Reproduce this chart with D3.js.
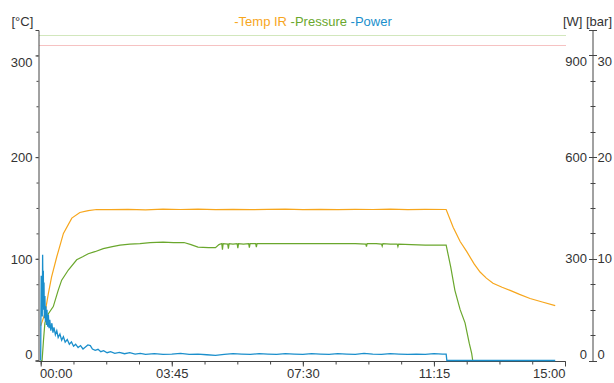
<!DOCTYPE html>
<html>
<head>
<meta charset="utf-8">
<script src="https://cdn.jsdelivr.net/npm/d3@7"></script>
<style>
  html, body { margin: 0; padding: 0; background: #fff; }
  svg { display: block; font-family: "Liberation Sans", Arial, sans-serif; }
</style>
</head>
<body>
<svg id="chart" width="614" height="383"></svg>
<script>
// ---- Data (time in minutes) ----
const seriesNames = ["Temp IR", "Pressure", "Power"];
const seriesColors = ["#f7a61c", "#6aa72d", "#1b8fcc"];

const tempTime = [0, 0.12, 0.22, 0.31, 0.46, 0.65, 0.89, 1.12, 1.36, 1.6,
  2.0, 2.5, 3.0, 3.5, 4.0, 4.5, 5.0, 5.5, 6.0, 6.5, 7.0, 7.5, 8.0, 8.5, 9.0, 9.5, 10.0, 10.5, 11.0, 11.6,
  11.8, 12.0, 12.19, 12.4, 12.57, 12.75, 12.94, 13.2, 13.43, 13.7, 14.0, 14.35, 14.72];
const tempValues = [34, 46, 66, 82, 102, 125, 140, 145.5, 147.3, 148.5,
  148.3, 148.6, 148.2, 148.8, 148.5, 148.9, 148.4, 148.7, 148.3, 148.6, 148.8, 148.4, 148.6, 148.3, 148.7, 148.5, 148.8, 148.4, 148.6, 148.5,
  131, 117, 107, 95, 87, 81, 76, 72, 69, 65, 61, 57.5, 54];

const pressureTime = [0, 0.04, 0.08, 0.12, 0.22, 0.36, 0.5, 0.6, 0.79, 1.03, 1.2, 1.36, 1.55, 1.79, 2.05, 2.27, 2.55, 2.84, 3.13,
  3.5, 3.8, 4.1, 4.3, 4.5, 4.8, 5.0, 5.1, 5.18, 5.2, 5.22, 5.35, 5.37, 5.39, 5.5, 5.62, 5.64, 5.66, 5.8, 5.95, 5.97, 5.99,
  6.15, 6.17, 6.19, 6.4,
  7.0, 7.5, 8.0, 8.5, 9.0, 9.3, 9.32, 9.34, 9.6, 9.75, 9.77, 9.79, 10.0, 10.2, 10.22, 10.24, 10.6, 11.0, 11.3, 11.6,
  11.73, 11.85, 12.0, 12.14, 12.26, 12.33, 12.36];
const pressureValues = [0, 0, 2.0, 3.7, 4.6, 5.3, 6.9, 7.9, 8.9, 9.9, 10.2, 10.5, 10.7, 11.0, 11.2, 11.35, 11.45, 11.5, 11.6,
  11.65, 11.6, 11.6, 11.4, 11.15, 11.1, 11.1, 11.4, 11.5, 10.9, 11.5, 11.45, 11.0, 11.5, 11.45, 11.5, 11.05, 11.5, 11.45, 11.5, 11.1, 11.5,
  11.5, 11.15, 11.5, 11.5,
  11.5, 11.5, 11.5, 11.5, 11.5, 11.45, 11.2, 11.5, 11.5, 11.45, 11.25, 11.5, 11.45, 11.45, 11.2, 11.45, 11.4, 11.35, 11.35, 11.35,
  9.2, 6.9, 5.0, 3.7, 1.7, 0.7, 0];

const powerTime = [0, 0.005, 0.015, 0.025, 0.035, 0.045, 0.055, 0.065, 0.075, 0.085, 0.095, 0.105, 0.12, 0.135, 0.15, 0.165, 0.18,
  0.2, 0.22, 0.24, 0.26, 0.29, 0.32, 0.35, 0.38, 0.42, 0.46, 0.5, 0.55, 0.6, 0.65, 0.7, 0.76, 0.82, 0.88, 0.94,
  1.0, 1.07, 1.14, 1.21, 1.28, 1.35, 1.42, 1.48, 1.56, 1.64, 1.72, 1.8, 1.9, 2.0, 2.12, 2.25, 2.4, 2.55, 2.7, 2.85, 3.0,
  3.25, 3.5, 3.75, 4.0, 4.25, 4.5, 4.75, 5.0, 5.25, 5.5, 5.75, 6.0, 6.25, 6.5, 6.75, 7.0, 7.25, 7.5, 7.75, 8.0,
  8.25, 8.5, 8.75, 9.0, 9.25, 9.5, 9.75, 10.0, 10.25, 10.5, 10.75, 11.0, 11.25, 11.5, 11.6, 11.62, 14.72];
const powerValues = [0, 120, 250, 170, 215, 130, 312, 200, 265, 150, 230, 125, 190, 115, 160, 105, 150,
  100, 135, 95, 120, 88, 110, 82, 98, 76, 88, 68, 78, 60, 70, 54, 62, 48, 55, 42,
  48, 38, 44, 34, 40, 46, 44, 34, 30, 33, 26, 29, 23, 26, 21, 24, 20, 23, 19, 21, 18,
  20, 18, 19, 21, 18, 19, 17, 15, 18, 20, 19, 18, 20, 19, 18, 20, 19, 18, 20, 19,
  18, 20, 19, 18, 21, 19, 18, 20, 19, 18, 19, 18, 20, 19, 19, 0, 0];

// Alarm limits drawn as faint horizontal lines
const pressureLimit = 32;   // bar
const tempLimit = 310;      // °C

// Axis ticks
const timeMajorTicks = [0, 3.75, 7.5, 11.25, 15];
const tempTicks = [0, 100, 200, 300];
const powerTicks = [0, 300, 600, 900];
const pressureTicks = [0, 10, 20, 30];

// ---- Layout ----
const svg = d3.select("#chart");
const plotLeft = 38.5, plotRight = 565, plotTop = 30, plotBottom = 361;
const rightAxisX = 593;

const x = d3.scaleLinear().domain([0, 15]).range([40.7, plotRight]);
const yTemp = d3.scaleLinear().domain([0, 325]).range([plotBottom - 0.5, plotTop]);
const yPower = d3.scaleLinear().domain([0, 975]).range([plotBottom - 0.5, plotTop]);
const yPressure = d3.scaleLinear().domain([0, 32.5]).range([plotBottom - 0.5, plotTop]);

const axisColor = "#444";
const textColor = "#333";
const crisp = v => Math.round(v) + 0.5;

const fmtTime = m => {
  const mm = Math.floor(m + 1e-9);
  const ss = Math.round((m - mm) * 60);
  return String(mm).padStart(2, "0") + ":" + String(ss).padStart(2, "0");
};

// Limit lines
svg.append("line")
  .attr("x1", plotLeft + 0.5).attr("x2", plotRight + 1)
  .attr("y1", crisp(yPressure(pressureLimit))).attr("y2", crisp(yPressure(pressureLimit)))
  .attr("stroke", "#d2e7bd").attr("stroke-width", 1);
svg.append("line")
  .attr("x1", plotLeft + 0.5).attr("x2", plotRight + 1)
  .attr("y1", crisp(yTemp(tempLimit))).attr("y2", crisp(yTemp(tempLimit)))
  .attr("stroke", "#f6c2c2").attr("stroke-width", 1);

// ---- Left axis (°C) ----
const leftG = svg.append("g").attr("transform", `translate(${plotLeft},0)`);
leftG.append("g")
  .call(d3.axisLeft(yTemp).tickValues(d3.range(0, 326, 25)).tickSize(2).tickSizeOuter(3).tickFormat(""))
  .call(g => g.selectAll("path,line").attr("stroke", axisColor));
leftG.append("g")
  .call(d3.axisLeft(yTemp).tickValues(tempTicks).tickSize(3).tickSizeOuter(0).tickPadding(3))
  .call(g => g.select(".domain").remove())
  .call(g => g.selectAll("line").attr("stroke", axisColor))
  .call(g => g.selectAll("text")
    .attr("font-size", 13).attr("fill", textColor)
    .attr("font-family", "Liberation Sans, Arial, sans-serif")
    .attr("dy", d => d === 0 ? "-0.12em" : d === 300 ? "0.85em" : "0.35em"));

svg.append("text").attr("x", 11.5).attr("y", 25.5)
  .attr("font-size", 13).attr("fill", textColor).text("[°C]");

// ---- Right axis (W / bar) ----
const rightG = svg.append("g").attr("transform", `translate(${rightAxisX},0)`);
rightG.append("line")
  .attr("x1", 0).attr("x2", 0).attr("y1", plotTop).attr("y2", plotBottom + 0.5)
  .attr("stroke", axisColor);
[plotTop, plotBottom].forEach(yy => rightG.append("line")
  .attr("x1", -4).attr("x2", 4).attr("y1", yy + 0.5).attr("y2", yy + 0.5)
  .attr("stroke", axisColor));
rightG.selectAll(".minor").data(d3.range(75, 975, 75).filter(v => v % 300 !== 0))
  .join("line").attr("class", "minor")
  .attr("x1", -2.5).attr("x2", 2.5)
  .attr("y1", d => crisp(yPower(d))).attr("y2", d => crisp(yPower(d)))
  .attr("stroke", axisColor);
rightG.selectAll(".major").data(powerTicks.filter(v => v > 0))
  .join("line").attr("class", "major")
  .attr("x1", -4).attr("x2", 4)
  .attr("y1", d => crisp(yPower(d))).attr("y2", d => crisp(yPower(d)))
  .attr("stroke", axisColor);
const rdy = d => d === 0 ? "-0.12em" : d === 900 ? "0.85em" : "0.35em";
rightG.selectAll(".wlab").data(powerTicks).join("text").attr("class", "wlab")
  .attr("x", -6).attr("y", d => yPower(d)).attr("dy", rdy)
  .attr("text-anchor", "end").attr("font-size", 13).attr("fill", textColor)
  .text(d => d);
rightG.selectAll(".blab").data(pressureTicks).join("text").attr("class", "blab")
  .attr("x", 4.5).attr("y", d => yPressure(d)).attr("dy", d => rdy(d * 30))
  .attr("text-anchor", "start").attr("font-size", 13).attr("fill", textColor)
  .text(d => d);

svg.append("text").attr("x", 612).attr("y", 25.5).attr("text-anchor", "end")
  .attr("font-size", 13).attr("fill", textColor).text("[W] [bar]");

// ---- Bottom axis (time) ----
const bottomG = svg.append("g").attr("transform", `translate(0,${plotBottom + 0.5})`);
bottomG.append("line")
  .attr("x1", plotLeft).attr("x2", plotRight + 0.5).attr("y1", 0).attr("y2", 0)
  .attr("stroke", axisColor);
bottomG.append("g")
  .call(d3.axisBottom(x).tickValues(d3.range(0, 15.001, 0.9375)).tickSize(3).tickSizeOuter(0).tickFormat(""))
  .call(g => g.select(".domain").remove())
  .call(g => g.selectAll("line").attr("stroke", axisColor));
bottomG.append("g")
  .call(d3.axisBottom(x).tickValues(timeMajorTicks).tickSize(5).tickSizeOuter(0).tickPadding(2).tickFormat(fmtTime))
  .call(g => g.select(".domain").remove())
  .call(g => g.selectAll("line").attr("stroke", axisColor))
  .call(g => g.selectAll("text")
    .attr("font-size", 13).attr("fill", textColor)
    .attr("font-family", "Liberation Sans, Arial, sans-serif")
    .attr("text-anchor", d => d === 0 ? "start" : d === 15 ? "end" : "middle")
    .attr("dx", d => d === 0 ? -1.2 : 0));

// ---- Series ----
const plot = svg.append("g");
const lineFor = (times, values, scale) =>
  d3.line().x((d, i) => x(times[i])).y(d => scale(d))(values);

plot.append("path").attr("d", lineFor(tempTime, tempValues, yTemp))
  .attr("fill", "none").attr("stroke", seriesColors[0]).attr("stroke-width", 1.2);
plot.append("path").attr("d", lineFor(pressureTime, pressureValues, yPressure))
  .attr("fill", "none").attr("stroke", seriesColors[1]).attr("stroke-width", 1.2);
plot.append("path").attr("d", lineFor(powerTime, powerValues, yPower))
  .attr("fill", "none").attr("stroke", seriesColors[2]).attr("stroke-width", 1.3);

// ---- Legend ----
const legend = svg.append("text").attr("x", 313).attr("y", 25.5)
  .attr("text-anchor", "middle").attr("font-size", 13);
seriesNames.forEach((name, i) => {
  legend.append("tspan").attr("fill", seriesColors[i])
    .text((i > 0 ? " " : "") + "-" + name);
});
</script>
</body>
</html>
